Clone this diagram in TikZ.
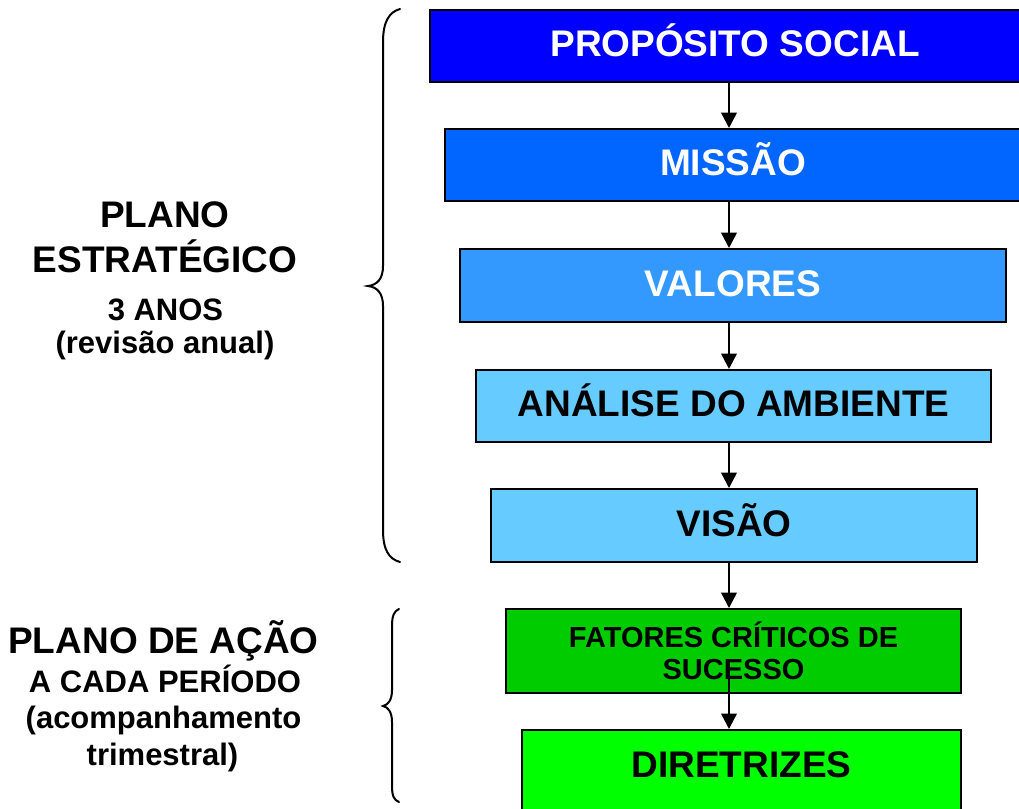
\documentclass[tikz,border=0pt]{standalone}
\usepackage{fontspec}
\setmainfont{Liberation Sans}
\usetikzlibrary{arrows.meta,calc}
\definecolor{cPS}{RGB}{0,0,255}
\definecolor{cMI}{RGB}{0,102,255}
\definecolor{cVA}{RGB}{51,153,255}
\definecolor{cLB}{RGB}{102,204,255}
\definecolor{cFA}{RGB}{0,204,0}
\definecolor{cDI}{RGB}{0,255,0}
\tikzset{
  box/.style={draw=black, line width=1.5pt, rectangle, inner sep=0pt, align=center,
    font=\bfseries\fontsize{27.75}{33}\selectfont, text height=20pt, text depth=3.75pt},
  arr/.style={line width=1.9pt, -{Triangle[width=11.5pt,length=11.5pt]}},
  bracepath/.style={line width=1.5pt, line cap=round},
  bigtxt/.style={anchor=base, inner sep=0pt, font=\bfseries\fontsize{27.75}{33}\selectfont},
  smalltxt/.style={anchor=base, inner sep=0pt, font=\bfseries\fontsize{23.25}{28}\selectfont}
}
\begin{document}
\begin{tikzpicture}[x=0.75pt,y=-0.75pt]
\useasboundingbox (0,0) rectangle (1019,808);
\clip (0,0) rectangle (1019,808);
\fill[white] (0,0) rectangle (1019,808);
\coordinate (ax) at (729,0);

\node[box, fill=cPS, text=white, minimum width=457.5pt, minimum height=54pt] (ps) at (735,46) {PROPÓSITO SOCIAL};
\node[box, fill=cMI, text=white, minimum width=432pt, minimum height=54pt] (mis) at (733,165) {MISSÃO};
\node[box, fill=cVA, text=white, minimum width=409.5pt, minimum height=54.75pt] (val) at (733,285.5) {VALORES};
\node[box, fill=cLB, text=black, minimum width=386.25pt, minimum height=54pt] (ana) at (733.5,406) {ANÁLISE DO AMBIENTE};
\node[box, fill=cLB, text=black, minimum width=364.5pt, minimum height=54.75pt] (vis) at (734,525.5) {VISÃO};
\node[box, fill=cFA, text=black, minimum width=341.25pt, minimum height=63pt,
  font=\bfseries\fontsize{21.75}{26}\selectfont, text height=, text depth=] (fat) at (733.5,651) {\raisebox{-2pt}{FATORES CRÍTICOS DE}\\SUCESSO};
\node[box, fill=cDI, text=black, minimum width=329.25pt, minimum height=61.5pt, text depth=9.75pt] (dir) at (741.5,771) {DIRETRIZES};

\coordinate (fs) at (729,675);
\draw[arr] (ps.south -| ax) -- (mis.north -| ax);
\draw[arr] (mis.south -| ax) -- (val.north -| ax);
\draw[arr] (val.south -| ax) -- (ana.north -| ax);
\draw[arr] (ana.south -| ax) -- (vis.north -| ax);
\draw[arr] (vis.south -| ax) -- (fat.north -| ax);
\draw[arr] (fs) -- (dir.north -| ax);

% braces
\draw[bracepath] (400,9) .. controls (389,12) and (383,22) .. (383,42) -- (383,266)
  .. controls (383,279) and (377,285) .. (368,286)
  .. controls (377,287) and (383,293) .. (383,306) -- (383,530)
  .. controls (383,550) and (389,559) .. (400,562);
\draw[bracepath] (399,609) .. controls (394,611) and (392,616) .. (392,626) -- (392,690)
  .. controls (392,700) and (388,705) .. (383,706)
  .. controls (388,707) and (392,712) .. (392,722) -- (392,786)
  .. controls (392,796) and (394,800) .. (399,802);

% left texts
\node[bigtxt] (pe1) at (165,227) {PLANO};
\node[bigtxt] (pe2) at (165,272.5) {ESTRATÉGICO};
\node[smalltxt] (pe3) at (165.5,320) {3 ANOS};
\node[smalltxt] (pe4) at (165,353) {(revisão anual)};

\node[bigtxt] (pa1) at (163.5,653) {PLANO DE AÇÃO};
\node[smalltxt] (pa2) at (165,692) {A CADA PERÍODO};
\node[smalltxt] (pa3) at (163.5,728) {(acompanhamento};
\node[smalltxt] (pa4) at (162.5,765) {trimestral)};
\end{tikzpicture}
\end{document}
